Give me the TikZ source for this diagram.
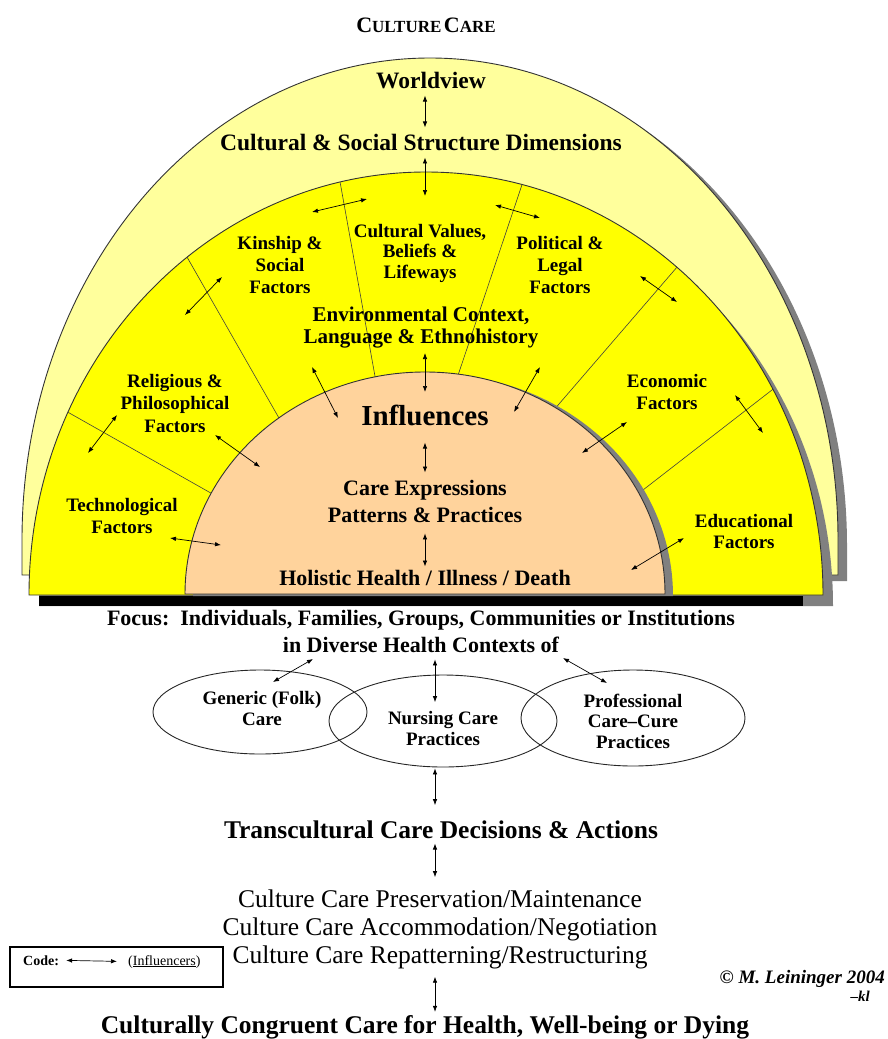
\documentclass[tikz,border=0pt]{standalone}
\usepackage{fontspec}
\setmainfont{Liberation Serif}
\usepackage{xcolor}
\usepackage{tikz}
\usetikzlibrary{calc,arrows.meta}

\definecolor{paleyellow}{HTML}{FFFF9C}
\definecolor{bandyellow}{HTML}{FFFF00}
\definecolor{peach}{HTML}{FFD39C}
\definecolor{shadowgray}{HTML}{808080}

\newcommand{\fsz}[2]{\fontsize{#1}{#2}\selectfont}
\newcommand{\fakesc}[2]{{\fsz{22}{22}#1}{\fsz{17}{17}#2}}

\begin{document}
\begin{tikzpicture}[x=1pt, y=-1pt,
    infl/.style={{Latex[length=6pt,width=4.5pt]}-{Latex[length=6pt,width=4.5pt]}, line width=0.7pt},
    rim/.style={draw=black!80, line width=0.9pt},
    ring/.style={draw=black!85, line width=0.9pt},
    divider/.style={draw=black!75, line width=0.6pt},
    txt/.style={inner sep=0pt, anchor=base, align=center},
    factor/.style={txt, font=\bfseries\fsz{19}{22}},
    circlelbl/.style={txt, font=\bfseries\fsz{19}{20.5}},
    bigline/.style={txt, font=\bfseries\fsz{25.5}{28}}]
  \useasboundingbox (0,0) rectangle (887,1039);

  \coordinate (bandC) at (426,595);
  \coordinate (peachC) at (425,594);
  \coordinate (axis) at (425,0);
  \coordinate (axisb) at (435,0);

  % outer arch with its shadow
  \fill[shadowgray] (31,581) -- (31,546) arc[start angle=180, end angle=360, x radius=408, y radius=482] -- (847,581) -- cycle;
  \draw[rim, fill=paleyellow] (22,575) -- (22,540) arc[start angle=180, end angle=360, x radius=408, y radius=482] -- (838,575) -- cycle;

  % yellow band
  \fill[shadowgray] (39,606) arc[start angle=180, end angle=360, x radius=397, y radius=423] -- cycle;
  \draw[rim, fill=bandyellow] (29,595) arc[start angle=180, end angle=360, x radius=397, y radius=423] -- cycle;
  \fill (39,596) rectangle (803,606);

  \foreach \o/\i in {154.4/153, 127/127.5, 102.5/102, 76/82, 50.8/57, 29.1/27}
    \draw[divider] ($(bandC)+(-\o:397 and 423)$) -- ($(peachC)+(-\i:240 and 222)$);

  % inner dome
  \fill[shadowgray] (193,596) arc[start angle=180, end angle=360, x radius=240, y radius=222] -- cycle;
  \draw[rim, fill=peach] (185,594) arc[start angle=180, end angle=360, x radius=240, y radius=222] -- cycle;

  % labels of the arches (multi-line nodes sit on their last baseline)
  \node[txt, font=\bfseries] (title) at (426,32) {\fakesc{C}{ULTURE} \fakesc{C}{ARE}};
  \node[txt, font=\bfseries\fsz{23.5}{26}] (world) at (431,88) {Worldview};
  \node[txt, font=\bfseries\fsz{23.5}{26}] (csd) at (421,150) {Cultural \& Social Structure Dimensions};

  \node[factor] (kin) at (280,293) {Kinship \&\\Social\\Factors};
  \node[txt, font=\bfseries\fsz{19}{20.5}] (cvb) at (420,278) {Cultural Values,\\Beliefs \&\\Lifeways};
  \node[factor] (pol) at (560,293) {Political \&\\Legal\\Factors};
  \node[txt, font=\bfseries\fsz{21}{22}] (env) at (421,343) {Environmental Context,\\Language \& Ethnohistory};
  \node[txt, font=\bfseries\fsz{19}{22.5}] (rel) at (175,432) {Religious \&\\Philosophical\\Factors};
  \node[factor] (eco) at (667,409) {Economic\\Factors};
  \node[factor] (tech) at (122,533) {Technological\\Factors};
  \node[txt, font=\bfseries\fsz{19}{20.5}] (edu) at (744,548) {Educational\\Factors};

  \node[txt, font=\bfseries\fsz{29}{30}] (infl) at (425,425) {Influences};
  \node[txt, font=\bfseries\fsz{22}{27}] (cep) at (425,522) {Care Expressions\\Patterns \& Practices};
  \node[txt, font=\bfseries\fsz{22}{24}] (hol) at (425,585) {Holistic Health / Illness / Death};

  % influencers inside the arches
  \coordinate (kc1) at (312,212); \coordinate (kc2) at (367,199);
  \coordinate (cp1) at (495,205); \coordinate (cp2) at (540,218);
  \coordinate (rk1) at (185,315); \coordinate (rk2) at (222,277);
  \coordinate (tr1) at (88,453);  \coordinate (tr2) at (117,415);
  \coordinate (pe1) at (640,276); \coordinate (pe2) at (677,302);
  \coordinate (ee1) at (735,395); \coordinate (ee2) at (763,433);
  \coordinate (ri1) at (215,435); \coordinate (ri2) at (260,467);
  \coordinate (el1) at (312,367); \coordinate (el2) at (338,418);
  \coordinate (ec1) at (425,353); \coordinate (ec2) at (425,392);
  \coordinate (er1) at (540,367); \coordinate (er2) at (514,412);
  \coordinate (ei1) at (627,422); \coordinate (ei2) at (582,453);
  \coordinate (ti1) at (170,538); \coordinate (ti2) at (221,545);
  \coordinate (di1) at (684,538); \coordinate (di2) at (631,570);
  \coordinate (bandtop) at (425,196);

  \draw[infl, shorten <=7pt, shorten >=6pt] (world.south -| axis) -- (csd.north -| axis);
  \draw[infl, shorten <=7pt] (csd.south -| axis) -- (bandtop);
  \foreach \a/\b in {kc1/kc2, cp1/cp2, rk1/rk2, tr1/tr2, pe1/pe2, ee1/ee2,
                     ri1/ri2, el1/el2, ec1/ec2, er1/er2, ei1/ei2, ti1/ti2, di1/di2}
    \draw[infl] (\a) -- (\b);
  \draw[infl, shorten <=17pt, shorten >=7pt] (infl.south -| axis) -- (cep.north -| axis);
  \draw[infl, shorten <=11pt, shorten >=3pt] (cep.south -| axis) -- (hol.north -| axis);

  % focus and the three kinds of care
  \node[txt, font=\bfseries\fsz{22}{27}] (focus) at (421,652)
    {Focus:\ \ Individuals, Families, Groups, Communities or Institutions\\in Diverse Health Contexts of};

  \draw[ring] (260,712) ellipse [x radius=107, y radius=42];
  \draw[ring] (443,721) ellipse [x radius=114, y radius=46];
  \draw[ring] (633,718) ellipse [x radius=112, y radius=48];
  \node[circlelbl] (gen) at (262,725) {Generic (Folk)\\Care};
  \node[circlelbl] (nur) at (443,745) {Nursing Care\\Practices};
  \node[circlelbl] (pro) at (633,748) {Professional\\Care–Cure\\Practices};

  \coordinate (fg1) at (313,659); \coordinate (fg2) at (273,682);
  \coordinate (fp1) at (563,658); \coordinate (fp2) at (607,683);
  \draw[infl] (fg1) -- (fg2);
  \draw[infl] (fp1) -- (fp2);
  \draw[infl, shorten <=7pt, shorten >=9pt] (focus.south -| axisb) -- (nur.north -| axisb);

  \node[bigline] (trans) at (441,838) {Transcultural Care Decisions \& Actions};
  \node[txt, font=\fsz{25.5}{28}] (pres) at (440,963)
    {Culture Care Preservation/Maintenance\\Culture Care Accommodation/Negotiation\\Culture Care Repatterning/Restructuring};
  \node[bigline] (cong) at (425,1033) {Culturally Congruent Care for Health, Well-being or Dying};

  \draw[infl, shorten <=23pt, shorten >=15pt] (nur.south -| axisb) -- (trans.north -| axisb);
  \draw[infl, shorten <=5pt, shorten >=12pt] (trans.south -| axisb) -- (pres.north -| axisb);
  \draw[infl, shorten <=8pt, shorten >=3pt] (pres.south -| axisb) -- (cong.north -| axisb);

  % key and credit
  \draw[line width=1.4pt] (10,947) rectangle (223,987);
  \node[txt, anchor=base west, font=\bfseries\fsz{14}{16}] (code) at (23,965) {Code:};
  \node[txt, anchor=base west, font=\fsz{14}{16}] (codetxt) at (128,965) {(\underline{Influencers})};
  \draw[infl, shorten <=7pt, shorten >=11pt] (code.east) -- (codetxt.west);

  \node[txt, anchor=base east, font=\bfseries\itshape\fsz{19}{20}] (credit) at (885,983) {© M. Leininger 2004};
  \node[txt, anchor=base east, font=\bfseries\itshape\fsz{15}{16}] (kl) at (870,1001) {–kl};
\end{tikzpicture}
\end{document}
